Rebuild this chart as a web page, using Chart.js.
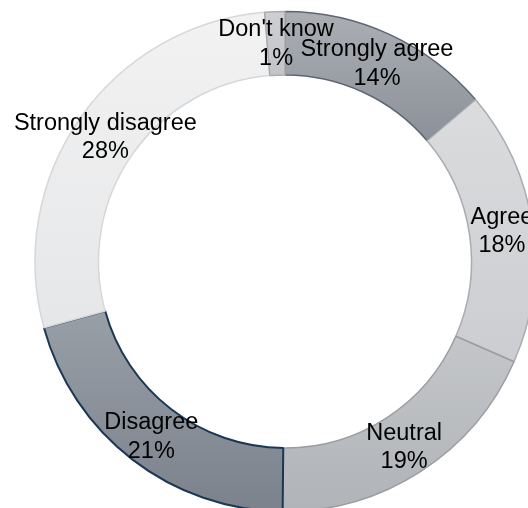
<!DOCTYPE html>
<html>
<head>
<meta charset="utf-8">
<script src="https://cdn.jsdelivr.net/npm/chart.js@4"></script>
<style>
  html, body { margin: 0; padding: 0; width: 528px; height: 508px; overflow: hidden; background: #ffffff; }
  #wrap { position: absolute; left: 0; top: 0; }
</style>
</head>
<body>
<div id="wrap"><canvas id="c" width="570" height="523" style="width:570px;height:523px"></canvas></div>
<script>
// ---- data ----
const categories = ['Strongly agree', 'Agree', 'Neutral', 'Disagree', 'Strongly disagree', "Don't know"];
const shares = [13.8, 17.8, 18.6, 20.6, 28.0, 1.3];
const percentLabels = ['14%', '18%', '19%', '21%', '28%', '1%'];

// ---- styles ----
const topColors    = ['#abafb4', '#dbdcde', '#c4c6c9', '#999fa7', '#f2f2f3', '#cdcfd2'];
const bottomColors = ['#8b9199', '#cbcdd0', '#b0b3b7', '#7b828c', '#e6e7e8', '#c2c4c8'];
const borderColors = ['#5f6672', '#a9acb0', '#9a9ea3', '#1b3754', '#d6d7d9', '#a9acb1'];
const borderWidths = [1.5, 1.5, 1.5, 2, 1.5, 1.5];
const BORDER = 2;
const CUTOUT = 0.746;

function segGradient(ctx) {
  const chart = ctx.chart;
  const i = ctx.dataIndex;
  const a = chart.chartArea;
  if (!a || i === undefined) return topColors[i || 0];
  const total = shares.reduce((s, v) => s + v, 0);
  let cum = 0;
  for (let k = 0; k < i; k++) cum += shares[k];
  const start = -Math.PI / 2 + cum / total * 2 * Math.PI;
  const end = start + shares[i] / total * 2 * Math.PI;
  const cx = (a.left + a.right) / 2, cy = (a.top + a.bottom) / 2;
  const ro = (Math.min(a.right - a.left, a.bottom - a.top) - BORDER) / 2;
  const ri = ro * CUTOUT;
  let ymin = Infinity, ymax = -Infinity;
  for (let s = 0; s <= 40; s++) {
    const t = start + (end - start) * s / 40;
    for (const r of [ri, ro]) {
      const y = cy + Math.sin(t) * r;
      ymin = Math.min(ymin, y); ymax = Math.max(ymax, y);
    }
  }
  const g = chart.ctx.createLinearGradient(0, ymin, 0, ymax);
  g.addColorStop(0, topColors[i]);
  g.addColorStop(1, bottomColors[i]);
  return g;
}

const labelPlugin = {
  id: 'sliceLabels',
  afterDatasetsDraw(chart) {
    const meta = chart.getDatasetMeta(0);
    const c = chart.ctx;
    c.save();
    c.fillStyle = '#000000';
    c.font = "23.5px 'Liberation Sans', Arial, sans-serif";
    c.textAlign = 'center';
    c.textBaseline = 'alphabetic';
    meta.data.forEach((arc, i) => {
      const p = arc.getProps(['x', 'y', 'startAngle', 'endAngle', 'innerRadius', 'outerRadius'], true);
      const mid = (p.startAngle + p.endAngle) / 2;
      const r = (p.innerRadius + p.outerRadius) / 2 + 1;
      const x = p.x + Math.cos(mid) * r;
      const y = p.y + Math.sin(mid) * r;
      c.fillText(categories[i], x, y - 6);
      c.fillText(percentLabels[i], x, y + 22.5);
    });
    c.restore();
  }
};

new Chart(document.getElementById('c'), {
  type: 'doughnut',
  data: {
    labels: categories,
    datasets: [{
      data: shares,
      backgroundColor: segGradient,
      borderColor: borderColors,
      borderWidth: borderWidths,
      borderAlign: 'center'
    }]
  },
  options: {
    responsive: false,
    animation: false,
    cutout: (CUTOUT * 100) + '%',
    layout: { padding: { top: 10.5, bottom: 10.5, left: 0, right: 0 } },
    plugins: {
      legend: { display: false },
      tooltip: { enabled: false },
      title: { display: false }
    }
  },
  plugins: [labelPlugin]
});
</script>
</body>
</html>
